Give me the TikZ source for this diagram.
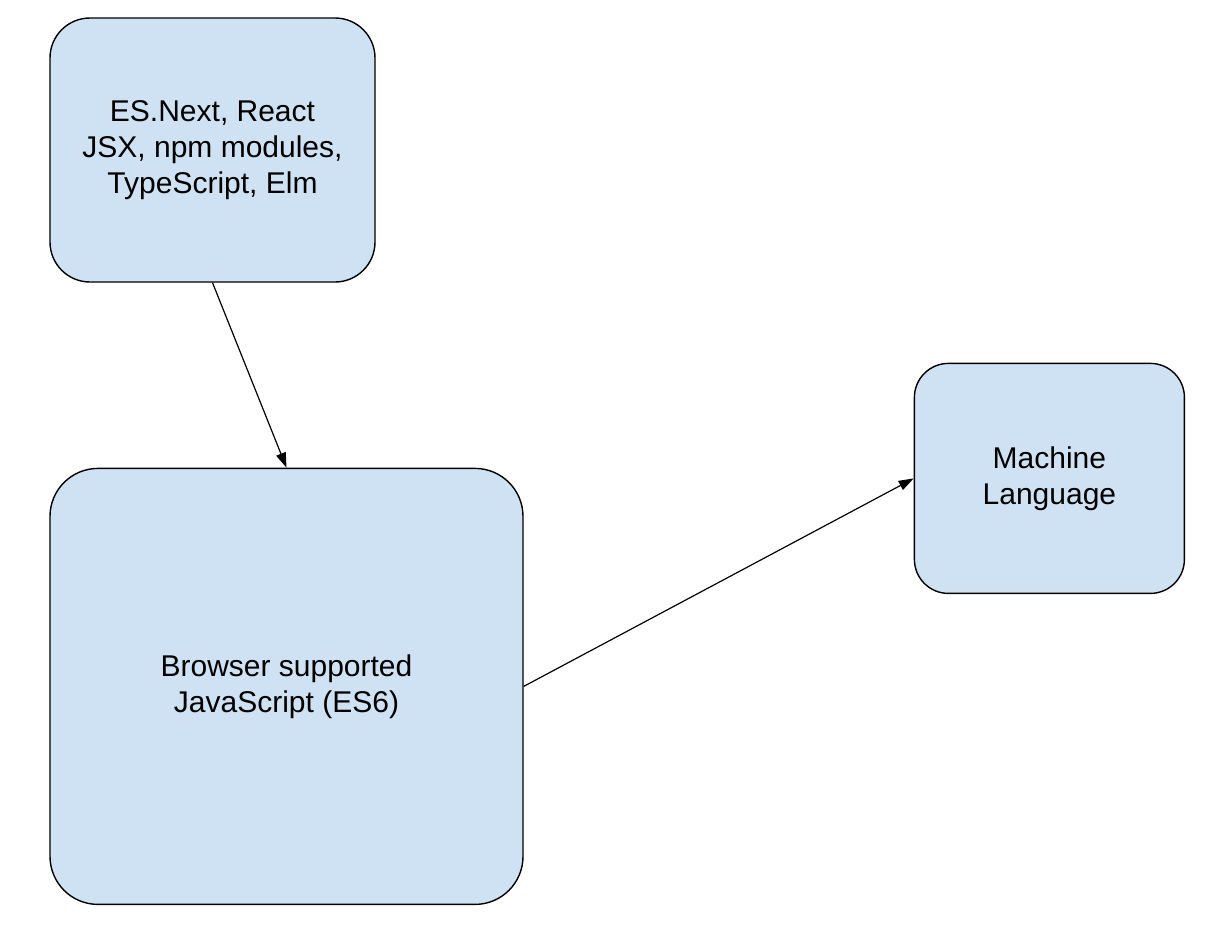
\documentclass[tikz,border=0pt]{standalone}
\usepackage{fontspec}
\setmainfont{Liberation Sans}
\usetikzlibrary{arrows.meta, positioning}
\definecolor{boxblue}{HTML}{CFE2F3}

\begin{document}
\begin{tikzpicture}[
        every node/.style={draw, line width=0.7pt, fill=boxblue, align=center, rounded corners=20pt, inner sep=0pt,
            font=\fontsize{15pt}{18pt}\selectfont},
        arrow/.style={-{Triangle[length=7.5pt, width=5pt]}, line width=0.6pt}
    ]
    \useasboundingbox (0,0) rectangle (605pt,-471pt);

    % Nodes
    \node (sources) at (106.25pt,-75pt) [minimum width=162.5pt, minimum height=132pt] {ES.Next, React\\JSX, npm modules,\\TypeScript, Elm};
    \node (browser_js) [below=92.5pt of sources.south west, anchor=north west, minimum width=236.5pt, minimum height=218pt, rounded corners=24pt] {Browser supported\\JavaScript (ES6)};
    \node (machine) [right=195pt of browser_js.north east, anchor=north west, yshift=52.5pt, minimum width=135pt, minimum height=115pt, rounded corners=17pt] {Machine\\Language};

    % Connections
    \draw[arrow] (sources.south) -- (browser_js.north);
    \draw[arrow] (browser_js.east) -- (machine.west);

\end{tikzpicture}
\end{document}
